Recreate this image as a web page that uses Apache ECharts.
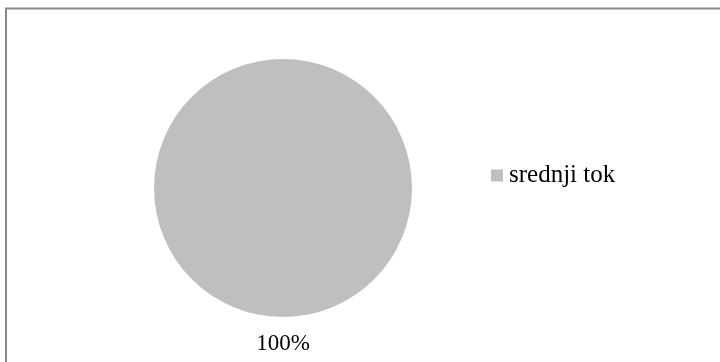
<!DOCTYPE html>
<html>
<head>
<meta charset="utf-8">
<script src="https://cdn.jsdelivr.net/npm/echarts@6/dist/echarts.min.js"></script>
<style>
html,body{margin:0;padding:0;background:#fff;}
#c{width:720px;height:362px;}
</style>
</head>
<body>
<div id="c"></div>
<script>
const categories = ['srednji tok'];
const values = [100];
const colors = ['#bfbfbf'];

const chart = echarts.init(document.getElementById('c'), null, {renderer: 'canvas'});
const font = '"Liberation Serif", "Times New Roman", serif';
chart.setOption({
  animation: false,
  backgroundColor: '#ffffff',
  color: colors,
  graphic: [
    {type: 'line', shape: {x1: 5, y1: 8.5, x2: 720, y2: 8.5}, style: {stroke: '#888888', lineWidth: 2}},
    {type: 'line', shape: {x1: 6, y1: 8, x2: 6, y2: 362}, style: {stroke: '#888888', lineWidth: 2}}
  ],
  legend: {
    orient: 'vertical',
    left: 491,
    top: 163,
    padding: 0,
    icon: 'rect',
    itemWidth: 12,
    itemHeight: 12,
    itemGap: 6,
    textStyle: {fontFamily: font, fontSize: 25, color: '#000', padding: [0,0,0,1]},
    data: categories
  },
  series: [{
    type: 'pie',
    center: [283, 188],
    radius: 129,
    startAngle: 90,
    clockwise: true,
    silent: true,
    label: {
      show: true,
      position: 'outside',
      formatter: function(p){ return Math.round(p.percent) + '%'; },
      fontFamily: font,
      fontSize: 23,
      color: '#000'
    },
    labelLine: {show: false},
    labelLayout: function(params){
      const r = params.rect;
      return {x: r.x + r.width / 2, y: r.y + r.height + 27, align: 'center', verticalAlign: 'middle'};
    },
    itemStyle: {borderWidth: 0},
    data: categories.map((n, i) => ({name: n, value: values[i]}))
  }]
});
</script>
</body>
</html>
